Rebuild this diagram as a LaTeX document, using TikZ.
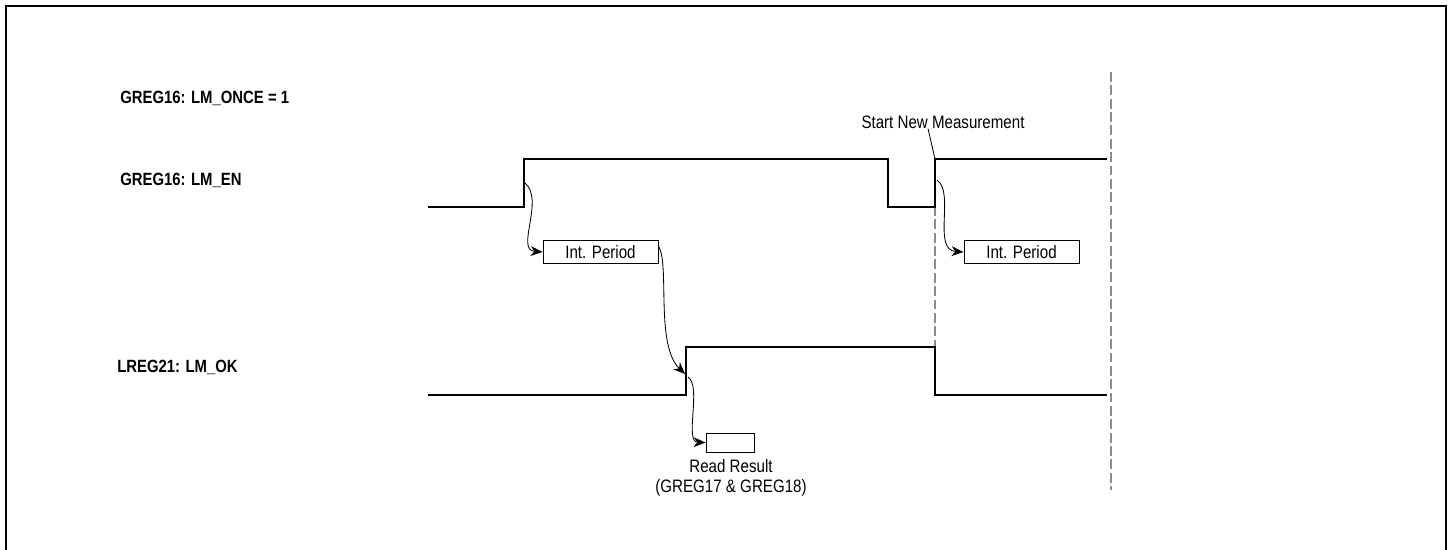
\documentclass[tikz,border=0pt]{standalone}
\usepackage{fontspec}
\setmainfont[FakeStretch=0.84]{Liberation Sans}
\usetikzlibrary{arrows.meta,positioning}

\begin{document}
\begin{tikzpicture}[x=0.025cm,y=-0.025cm]
\tikzset{sig/.style={line width=2pt,line join=miter}}
\tikzset{lbl/.style={font=\bfseries\fontsize{12.6}{14}\selectfont,anchor=west,inner sep=0pt}}
\tikzset{txt/.style={font=\fontsize{12.8}{14}\selectfont,inner sep=0pt}}
\tikzset{pbox/.style={draw,line width=0.7pt,minimum height=23*0.025cm,inner sep=0pt,font=\fontsize{12.8}{14}\selectfont}}
\tikzset{guide/.style={draw=black!45,line width=1.3pt,dash pattern=on 7pt off 2.5pt}}
\tikzset{cause/.style={line width=0.6pt,-{Stealth[length=8.5pt,width=7pt]}}}

\useasboundingbox (0,0) rectangle (1452,550);
\draw[line width=2pt] (6,550) -- (6,6) -- (1446,6) -- (1446,550);

\node [lbl] (once) at (120,98) {GREG16: LM\_ONCE = 1};
\node [lbl] (en) at (120,180) {GREG16: LM\_EN};
\node [lbl] (ok) at (117,367) {LREG21: LM\_OK};

\coordinate (enrise) at (524,159);
\coordinate (enfall) at (888,159);
\coordinate (enback) at (935,159);
\coordinate (okrise) at (686,347);
\coordinate (okfall) at (935,347);

\draw[guide] (1111,72) -- (1111,490);
\draw[guide] (935,206) -- (okfall);

\draw[sig] (428,207) -| (enrise) -- (enfall) |- (935,207) -- (enback) -- (1107,159);
\draw[sig] (428,395) -| (okrise) -- (okfall) |- (1107,395);

\node [pbox, minimum width=115*0.025cm] (p1) at (600.5,252) {Int. Period};
\node [pbox, minimum width=115*0.025cm] (p2) at (1021.5,252) {Int. Period};
\node [pbox, minimum width=48*0.025cm, minimum height=19*0.025cm] (rd) at (730,442.5) {};
\node [txt] (rdtxt) at (731,466) {Read Result};
\node [txt] (rdreg) at (731,488) {(GREG17 \& GREG18)};
\node [txt] (start) at (943,122) {Start New Measurement};

\draw[line width=0.6pt] (start.south -| 928,0) -- (enback);

\draw[cause] (525,183) .. controls (545,200) and (515,250) .. (p1.west);
\draw[cause] (p1.north east) ++(0,6) .. controls (670,265) and (655,345) .. (685,374);
\draw[cause] (688,377) .. controls (702,386) and (684,442) .. (rd.west);
\draw[cause] (937,180) .. controls (955,192) and (932,250) .. (p2.west);
\end{tikzpicture}
\end{document}
